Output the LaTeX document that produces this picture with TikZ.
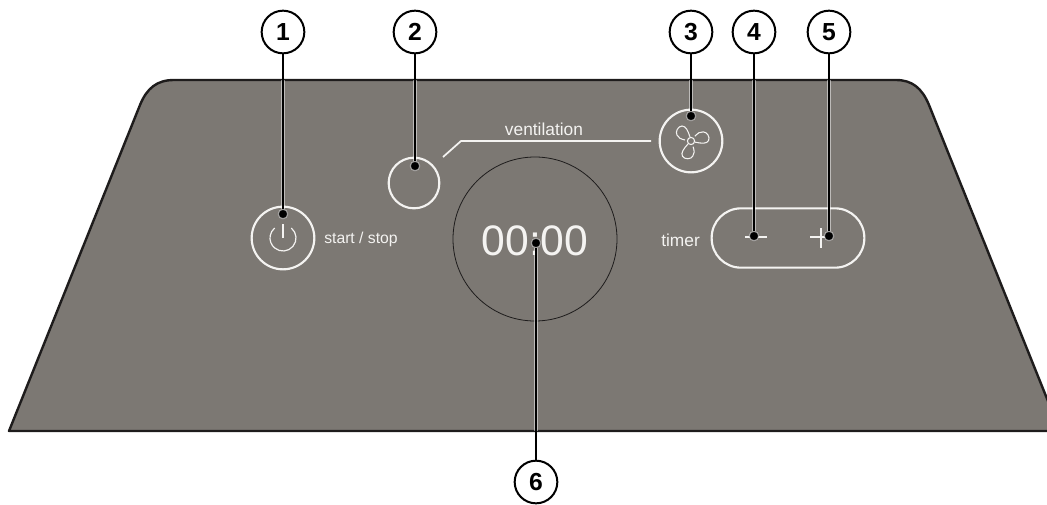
\documentclass[tikz,border=0pt]{standalone}
\usepackage{fontspec}
\setmainfont{Liberation Sans}
\usetikzlibrary{calc}
\definecolor{panelgrey}{HTML}{7C7873}
\definecolor{panelline}{HTML}{1E1C1C}
\definecolor{markwhite}{HTML}{F4F3F1}
\tikzset{
  panel/.style={draw=panelline,fill=panelgrey,line width=1.8pt,line join=round},
  ring/.style={draw=markwhite,line width=1.6pt},
  thinmark/.style={draw=markwhite,line width=0.9pt},
  caption/.style={text=markwhite,font=\fontsize{13}{15}\selectfont,inner sep=0pt},
  bubble/.style={circle,draw=black,fill=white,line width=1.5pt,minimum size=32pt,inner sep=0pt,font=\fontsize{18.5}{20}\selectfont\bfseries},
  leader/.style={draw=black,line width=1.5pt},
  halo/.style={draw=white,draw opacity=0.5,line width=3.4pt},
  tip/.style={circle,fill=black,draw=white,draw opacity=0.5,line width=0.8pt,minimum size=7pt,inner sep=0pt},
}

\begin{document}
\begin{tikzpicture}[x=0.75pt,y=-0.75pt]
  \useasboundingbox (0,0) rectangle (1047,504);
  \clip (0,0) rectangle (1047,504);

  % housing
  \draw[panel] (9,431) -- (140,105) .. controls (147,88) and (157,80) .. (174,80)
    -- (896,80) .. controls (912,80) and (922,88) .. (929,105) -- (1060,431) -- cycle;

  % touch fields
  \node[circle,ring,minimum size=47pt,inner sep=0pt] (power) at (283,238) {};
  \node[circle,ring,minimum size=38pt,inner sep=0pt] (zone) at (414,183) {};
  \node[circle,ring,minimum size=47pt,inner sep=0pt] (fan) at (691,141) {};
  \node[rectangle,rounded corners=22pt,ring,minimum width=114.5pt,minimum height=44.5pt,inner sep=0pt] (timerbox) at (788,238) {};
  \node[circle,draw=panelline,line width=0.6pt,minimum size=123pt,inner sep=0pt] (display) at (535,239) {};

  % power symbol
  \draw[thinmark] ($(283,238)+(-50:13)$) arc (-50:230:13);
  \draw[thinmark] (283,224) -- (283,238);

  % fan symbol
  \foreach \bladeangle in {0,120,240} {
    \begin{scope}[shift={(691,141)},rotate=\bladeangle]
      \draw[thinmark,line width=0.8pt] (-1,-4) .. controls (-3,-10) and (-5,-15) .. (-9,-15)
        .. controls (-13,-15) and (-16,-9) .. (-14,-6)
        .. controls (-13,-3) and (-10,-2) .. (-6,-1);
    \end{scope}
  }
  \draw[thinmark,line width=0.8pt] (691,141) circle (3.6);

  % connection from field to fan
  \coordinate (linkstart) at (443,157);
  \coordinate (linkbend) at (461,141);
  \coordinate (linkend) at (651,141);
  \draw[thinmark,line width=1.3pt] (linkstart) -- (linkbend) -- (linkend);

  % minus and plus
  \draw[thinmark] (745,237) -- (767,237);
  \draw[thinmark] (810,237) -- (833,237);
  \draw[thinmark] (821,228) -- (821,248);

  % labels
  \node[caption] (ventlabel) at (544,129) {ventilation};
  \node[caption,font=\fontsize{11.8}{13}\selectfont,anchor=west] (startlabel) at (324,239) {start / stop};
  \node[caption,anchor=west] (timerlabel) at (661,240) {timer};
  \node[text=markwhite,font=\fontsize{32}{34}\selectfont,inner sep=0pt] (clock) at (535,241) {00:00};

  % numbered callouts
  \foreach \num/\bx/\by/\tx/\ty/\edge in {1/283/32/283/214/80, 2/415/32/415/166/80, 3/691/32/691/116/80, 4/754/32/754/236/80, 5/829/32/829/236/80, 6/536/482/536/243/431} {
    \node[bubble] (num\num) at (\bx,\by) {\num};
    \node[tip] (tip\num) at (\tx,\ty) {};
    \draw[halo] (tip\num) -- (\tx,\edge);
    \draw[leader] (num\num) -- (tip\num);
  }
\end{tikzpicture}
\end{document}
